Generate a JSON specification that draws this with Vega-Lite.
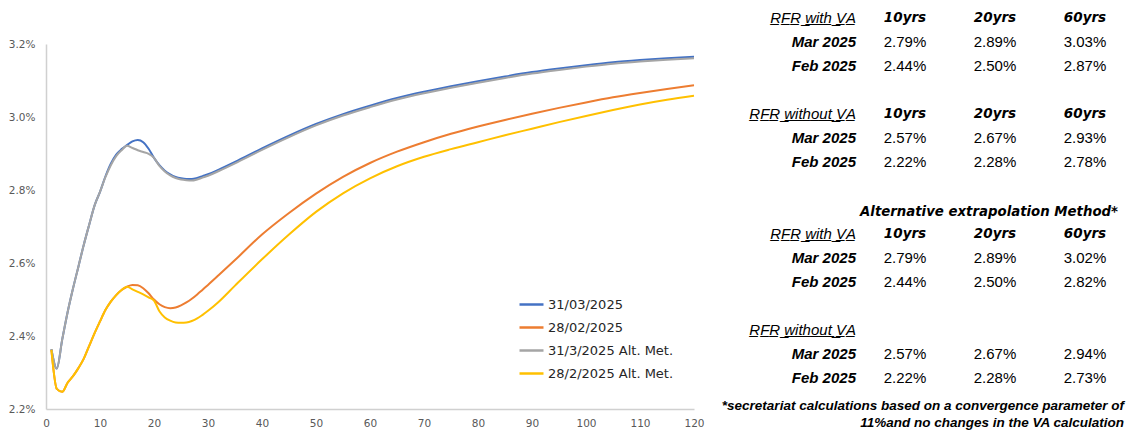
{
  "$schema": "https://vega.github.io/schema/vega-lite/v6.json",
  "background": "white",
  "padding": {"left": 8, "top": 10, "right": 2, "bottom": 2},
  "bounds": "flush",
  "spacing": 121,
  "config": {"view": {"stroke": null}, "font": "DejaVu Sans"},
  "datasets": {
    "curves": [
      {"s":"31/03/2025","t":1,"v":2.364},{"s":"31/03/2025","t":2,"v":2.311},{"s":"31/03/2025","t":3,"v":2.39},{"s":"31/03/2025","t":4,"v":2.465},{"s":"31/03/2025","t":5,"v":2.53},{"s":"31/03/2025","t":6,"v":2.59},{"s":"31/03/2025","t":7,"v":2.65},{"s":"31/03/2025","t":8,"v":2.705},{"s":"31/03/2025","t":9,"v":2.758},{"s":"31/03/2025","t":10,"v":2.795},{"s":"31/03/2025","t":11,"v":2.837},{"s":"31/03/2025","t":12,"v":2.872},{"s":"31/03/2025","t":13,"v":2.897},{"s":"31/03/2025","t":14,"v":2.912},{"s":"31/03/2025","t":15,"v":2.923},{"s":"31/03/2025","t":16,"v":2.933},{"s":"31/03/2025","t":17,"v":2.937},{"s":"31/03/2025","t":18,"v":2.931},{"s":"31/03/2025","t":19,"v":2.913},{"s":"31/03/2025","t":20,"v":2.888},{"s":"31/03/2025","t":21,"v":2.868},{"s":"31/03/2025","t":22,"v":2.853},{"s":"31/03/2025","t":23,"v":2.843},{"s":"31/03/2025","t":24,"v":2.836},{"s":"31/03/2025","t":25,"v":2.832},{"s":"31/03/2025","t":26,"v":2.83},{"s":"31/03/2025","t":27,"v":2.83},{"s":"31/03/2025","t":28,"v":2.833},{"s":"31/03/2025","t":29,"v":2.838},{"s":"31/03/2025","t":30,"v":2.843},{"s":"31/03/2025","t":32,"v":2.856},{"s":"31/03/2025","t":35,"v":2.877},{"s":"31/03/2025","t":40,"v":2.914},{"s":"31/03/2025","t":45,"v":2.949},{"s":"31/03/2025","t":50,"v":2.981},{"s":"31/03/2025","t":55,"v":3.008},{"s":"31/03/2025","t":60,"v":3.031},{"s":"31/03/2025","t":65,"v":3.052},{"s":"31/03/2025","t":70,"v":3.069},{"s":"31/03/2025","t":75,"v":3.084},{"s":"31/03/2025","t":80,"v":3.098},{"s":"31/03/2025","t":85,"v":3.111},{"s":"31/03/2025","t":90,"v":3.123},{"s":"31/03/2025","t":95,"v":3.133},{"s":"31/03/2025","t":100,"v":3.142},{"s":"31/03/2025","t":105,"v":3.15},{"s":"31/03/2025","t":110,"v":3.156},{"s":"31/03/2025","t":115,"v":3.161},{"s":"31/03/2025","t":120,"v":3.165},
      {"s":"28/02/2025","t":1,"v":2.362},{"s":"28/02/2025","t":2,"v":2.255},{"s":"28/02/2025","t":3,"v":2.247},{"s":"28/02/2025","t":4,"v":2.272},{"s":"28/02/2025","t":5,"v":2.29},{"s":"28/02/2025","t":6,"v":2.312},{"s":"28/02/2025","t":7,"v":2.338},{"s":"28/02/2025","t":8,"v":2.373},{"s":"28/02/2025","t":9,"v":2.408},{"s":"28/02/2025","t":10,"v":2.44},{"s":"28/02/2025","t":11,"v":2.471},{"s":"28/02/2025","t":12,"v":2.494},{"s":"28/02/2025","t":13,"v":2.512},{"s":"28/02/2025","t":14,"v":2.526},{"s":"28/02/2025","t":15,"v":2.535},{"s":"28/02/2025","t":16,"v":2.54},{"s":"28/02/2025","t":17,"v":2.539},{"s":"28/02/2025","t":18,"v":2.531},{"s":"28/02/2025","t":19,"v":2.517},{"s":"28/02/2025","t":20,"v":2.5},{"s":"28/02/2025","t":21,"v":2.487},{"s":"28/02/2025","t":22,"v":2.479},{"s":"28/02/2025","t":23,"v":2.476},{"s":"28/02/2025","t":24,"v":2.478},{"s":"28/02/2025","t":25,"v":2.484},{"s":"28/02/2025","t":26,"v":2.492},{"s":"28/02/2025","t":27,"v":2.502},{"s":"28/02/2025","t":28,"v":2.514},{"s":"28/02/2025","t":29,"v":2.527},{"s":"28/02/2025","t":30,"v":2.54},{"s":"28/02/2025","t":32,"v":2.567},{"s":"28/02/2025","t":35,"v":2.608},{"s":"28/02/2025","t":40,"v":2.678},{"s":"28/02/2025","t":45,"v":2.737},{"s":"28/02/2025","t":50,"v":2.79},{"s":"28/02/2025","t":55,"v":2.836},{"s":"28/02/2025","t":60,"v":2.874},{"s":"28/02/2025","t":65,"v":2.905},{"s":"28/02/2025","t":70,"v":2.931},{"s":"28/02/2025","t":75,"v":2.954},{"s":"28/02/2025","t":80,"v":2.974},{"s":"28/02/2025","t":85,"v":2.992},{"s":"28/02/2025","t":90,"v":3.009},{"s":"28/02/2025","t":95,"v":3.025},{"s":"28/02/2025","t":100,"v":3.04},{"s":"28/02/2025","t":105,"v":3.054},{"s":"28/02/2025","t":110,"v":3.066},{"s":"28/02/2025","t":115,"v":3.077},{"s":"28/02/2025","t":120,"v":3.087},
      {"s":"31/3/2025 Alt. Met.","t":1,"v":2.364},{"s":"31/3/2025 Alt. Met.","t":2,"v":2.311},{"s":"31/3/2025 Alt. Met.","t":3,"v":2.39},{"s":"31/3/2025 Alt. Met.","t":4,"v":2.465},{"s":"31/3/2025 Alt. Met.","t":5,"v":2.53},{"s":"31/3/2025 Alt. Met.","t":6,"v":2.59},{"s":"31/3/2025 Alt. Met.","t":7,"v":2.65},{"s":"31/3/2025 Alt. Met.","t":8,"v":2.705},{"s":"31/3/2025 Alt. Met.","t":9,"v":2.758},{"s":"31/3/2025 Alt. Met.","t":10,"v":2.795},{"s":"31/3/2025 Alt. Met.","t":11,"v":2.835},{"s":"31/3/2025 Alt. Met.","t":12,"v":2.868},{"s":"31/3/2025 Alt. Met.","t":13,"v":2.893},{"s":"31/3/2025 Alt. Met.","t":14,"v":2.909},{"s":"31/3/2025 Alt. Met.","t":15,"v":2.921},{"s":"31/3/2025 Alt. Met.","t":16,"v":2.915},{"s":"31/3/2025 Alt. Met.","t":17,"v":2.909},{"s":"31/3/2025 Alt. Met.","t":18,"v":2.904},{"s":"31/3/2025 Alt. Met.","t":19,"v":2.899},{"s":"31/3/2025 Alt. Met.","t":20,"v":2.888},{"s":"31/3/2025 Alt. Met.","t":21,"v":2.866},{"s":"31/3/2025 Alt. Met.","t":22,"v":2.851},{"s":"31/3/2025 Alt. Met.","t":23,"v":2.84},{"s":"31/3/2025 Alt. Met.","t":24,"v":2.833},{"s":"31/3/2025 Alt. Met.","t":25,"v":2.829},{"s":"31/3/2025 Alt. Met.","t":26,"v":2.827},{"s":"31/3/2025 Alt. Met.","t":27,"v":2.826},{"s":"31/3/2025 Alt. Met.","t":28,"v":2.829},{"s":"31/3/2025 Alt. Met.","t":29,"v":2.834},{"s":"31/3/2025 Alt. Met.","t":30,"v":2.839},{"s":"31/3/2025 Alt. Met.","t":32,"v":2.852},{"s":"31/3/2025 Alt. Met.","t":35,"v":2.873},{"s":"31/3/2025 Alt. Met.","t":40,"v":2.91},{"s":"31/3/2025 Alt. Met.","t":45,"v":2.945},{"s":"31/3/2025 Alt. Met.","t":50,"v":2.977},{"s":"31/3/2025 Alt. Met.","t":55,"v":3.004},{"s":"31/3/2025 Alt. Met.","t":60,"v":3.027},{"s":"31/3/2025 Alt. Met.","t":65,"v":3.048},{"s":"31/3/2025 Alt. Met.","t":70,"v":3.065},{"s":"31/3/2025 Alt. Met.","t":75,"v":3.08},{"s":"31/3/2025 Alt. Met.","t":80,"v":3.094},{"s":"31/3/2025 Alt. Met.","t":85,"v":3.107},{"s":"31/3/2025 Alt. Met.","t":90,"v":3.119},{"s":"31/3/2025 Alt. Met.","t":95,"v":3.129},{"s":"31/3/2025 Alt. Met.","t":100,"v":3.138},{"s":"31/3/2025 Alt. Met.","t":105,"v":3.146},{"s":"31/3/2025 Alt. Met.","t":110,"v":3.152},{"s":"31/3/2025 Alt. Met.","t":115,"v":3.157},{"s":"31/3/2025 Alt. Met.","t":120,"v":3.161},
      {"s":"28/2/2025 Alt. Met.","t":1,"v":2.362},{"s":"28/2/2025 Alt. Met.","t":2,"v":2.255},{"s":"28/2/2025 Alt. Met.","t":3,"v":2.247},{"s":"28/2/2025 Alt. Met.","t":4,"v":2.272},{"s":"28/2/2025 Alt. Met.","t":5,"v":2.29},{"s":"28/2/2025 Alt. Met.","t":6,"v":2.312},{"s":"28/2/2025 Alt. Met.","t":7,"v":2.338},{"s":"28/2/2025 Alt. Met.","t":8,"v":2.373},{"s":"28/2/2025 Alt. Met.","t":9,"v":2.408},{"s":"28/2/2025 Alt. Met.","t":10,"v":2.44},{"s":"28/2/2025 Alt. Met.","t":11,"v":2.471},{"s":"28/2/2025 Alt. Met.","t":12,"v":2.494},{"s":"28/2/2025 Alt. Met.","t":13,"v":2.512},{"s":"28/2/2025 Alt. Met.","t":14,"v":2.526},{"s":"28/2/2025 Alt. Met.","t":15,"v":2.535},{"s":"28/2/2025 Alt. Met.","t":16,"v":2.528},{"s":"28/2/2025 Alt. Met.","t":17,"v":2.521},{"s":"28/2/2025 Alt. Met.","t":18,"v":2.514},{"s":"28/2/2025 Alt. Met.","t":19,"v":2.506},{"s":"28/2/2025 Alt. Met.","t":20,"v":2.497},{"s":"28/2/2025 Alt. Met.","t":21,"v":2.468},{"s":"28/2/2025 Alt. Met.","t":22,"v":2.451},{"s":"28/2/2025 Alt. Met.","t":23,"v":2.442},{"s":"28/2/2025 Alt. Met.","t":24,"v":2.437},{"s":"28/2/2025 Alt. Met.","t":25,"v":2.436},{"s":"28/2/2025 Alt. Met.","t":26,"v":2.437},{"s":"28/2/2025 Alt. Met.","t":27,"v":2.441},{"s":"28/2/2025 Alt. Met.","t":28,"v":2.448},{"s":"28/2/2025 Alt. Met.","t":29,"v":2.458},{"s":"28/2/2025 Alt. Met.","t":30,"v":2.469},{"s":"28/2/2025 Alt. Met.","t":32,"v":2.494},{"s":"28/2/2025 Alt. Met.","t":35,"v":2.538},{"s":"28/2/2025 Alt. Met.","t":40,"v":2.61},{"s":"28/2/2025 Alt. Met.","t":45,"v":2.678},{"s":"28/2/2025 Alt. Met.","t":50,"v":2.74},{"s":"28/2/2025 Alt. Met.","t":55,"v":2.791},{"s":"28/2/2025 Alt. Met.","t":60,"v":2.832},{"s":"28/2/2025 Alt. Met.","t":65,"v":2.865},{"s":"28/2/2025 Alt. Met.","t":70,"v":2.891},{"s":"28/2/2025 Alt. Met.","t":75,"v":2.912},{"s":"28/2/2025 Alt. Met.","t":80,"v":2.931},{"s":"28/2/2025 Alt. Met.","t":85,"v":2.95},{"s":"28/2/2025 Alt. Met.","t":90,"v":2.968},{"s":"28/2/2025 Alt. Met.","t":95,"v":2.986},{"s":"28/2/2025 Alt. Met.","t":100,"v":3.003},{"s":"28/2/2025 Alt. Met.","t":105,"v":3.019},{"s":"28/2/2025 Alt. Met.","t":110,"v":3.034},{"s":"28/2/2025 Alt. Met.","t":115,"v":3.047},{"s":"28/2/2025 Alt. Met.","t":120,"v":3.058}
    ],
    "table": [
      {"row":0,"col":0,"kind":"section","text":"R\u0332F\u0332R\u0332 \u0332w\u0332i\u0332t\u0332h\u0332 \u0332V\u0332A\u0332"},
      {"row":0,"col":1,"kind":"head","text":"10yrs"},{"row":0,"col":2,"kind":"head","text":"20yrs"},{"row":0,"col":3,"kind":"head","text":"60yrs"},
      {"row":1,"col":0,"kind":"rowlabel","text":"Mar 2025"},{"row":1,"col":1,"kind":"value","text":"2.79%"},{"row":1,"col":2,"kind":"value","text":"2.89%"},{"row":1,"col":3,"kind":"value","text":"3.03%"},
      {"row":2,"col":0,"kind":"rowlabel","text":"Feb 2025"},{"row":2,"col":1,"kind":"value","text":"2.44%"},{"row":2,"col":2,"kind":"value","text":"2.50%"},{"row":2,"col":3,"kind":"value","text":"2.87%"},
      {"row":4,"col":0,"kind":"section","text":"R\u0332F\u0332R\u0332 \u0332w\u0332i\u0332t\u0332h\u0332o\u0332u\u0332t\u0332 \u0332V\u0332A\u0332"},
      {"row":4,"col":1,"kind":"head","text":"10yrs"},{"row":4,"col":2,"kind":"head","text":"20yrs"},{"row":4,"col":3,"kind":"head","text":"60yrs"},
      {"row":5,"col":0,"kind":"rowlabel","text":"Mar 2025"},{"row":5,"col":1,"kind":"value","text":"2.57%"},{"row":5,"col":2,"kind":"value","text":"2.67%"},{"row":5,"col":3,"kind":"value","text":"2.93%"},
      {"row":6,"col":0,"kind":"rowlabel","text":"Feb 2025"},{"row":6,"col":1,"kind":"value","text":"2.22%"},{"row":6,"col":2,"kind":"value","text":"2.28%"},{"row":6,"col":3,"kind":"value","text":"2.78%"},
      {"row":8,"col":3,"kind":"title","text":"Alternative extrapolation Method*"},
      {"row":9,"col":0,"kind":"section","text":"R\u0332F\u0332R\u0332 \u0332w\u0332i\u0332t\u0332h\u0332 \u0332V\u0332A\u0332"},
      {"row":9,"col":1,"kind":"head","text":"10yrs"},{"row":9,"col":2,"kind":"head","text":"20yrs"},{"row":9,"col":3,"kind":"head","text":"60yrs"},
      {"row":10,"col":0,"kind":"rowlabel","text":"Mar 2025"},{"row":10,"col":1,"kind":"value","text":"2.79%"},{"row":10,"col":2,"kind":"value","text":"2.89%"},{"row":10,"col":3,"kind":"value","text":"3.02%"},
      {"row":11,"col":0,"kind":"rowlabel","text":"Feb 2025"},{"row":11,"col":1,"kind":"value","text":"2.44%"},{"row":11,"col":2,"kind":"value","text":"2.50%"},{"row":11,"col":3,"kind":"value","text":"2.82%"},
      {"row":13,"col":0,"kind":"section","text":"R\u0332F\u0332R\u0332 \u0332w\u0332i\u0332t\u0332h\u0332o\u0332u\u0332t\u0332 \u0332V\u0332A\u0332"},
      {"row":14,"col":0,"kind":"rowlabel","text":"Mar 2025"},{"row":14,"col":1,"kind":"value","text":"2.57%"},{"row":14,"col":2,"kind":"value","text":"2.67%"},{"row":14,"col":3,"kind":"value","text":"2.94%"},
      {"row":15,"col":0,"kind":"rowlabel","text":"Feb 2025"},{"row":15,"col":1,"kind":"value","text":"2.22%"},{"row":15,"col":2,"kind":"value","text":"2.28%"},{"row":15,"col":3,"kind":"value","text":"2.73%"},
      {"row":17,"col":3,"kind":"note","text":"*secretariat calculations based on a convergence parameter of\n11%and no changes in the VA calculation"}
    ]
  },
  "hconcat": [
    {
      "width": 648,
      "height": 365,
      "data": {"name": "curves"},
      "mark": {"type": "line", "strokeWidth": 2, "interpolate": "monotone"},
      "encoding": {
        "x": {
          "field": "t", "type": "quantitative",
          "scale": {"domain": [0, 120], "nice": false, "zero": false},
          "axis": {"values": [0,10,20,30,40,50,60,70,80,90,100,110,120], "title": null, "grid": false, "ticks": false,
                   "domainColor": "#d0d0d0", "domainWidth": 1.5, "labelColor": "#595959", "labelFont": "DejaVu Sans",
                   "labelFontSize": 10.5, "labelPadding": 9, "labelFlush": false}
        },
        "y": {
          "field": "v", "type": "quantitative",
          "scale": {"domain": [2.2, 3.2], "nice": false, "zero": false},
          "axis": {"values": [2.2,2.4,2.6,2.8,3.0,3.2], "labelExpr": "format(datum.value, '.1f') + '%'", "title": null,
                   "grid": false, "ticks": false, "domainColor": "#d0d0d0", "domainWidth": 1.5, "labelColor": "#595959",
                   "labelFont": "DejaVu Sans", "labelFontSize": 10.5, "labelPadding": 11}
        },
        "color": {
          "field": "s", "type": "nominal",
          "scale": {"domain": ["31/03/2025", "28/02/2025", "31/3/2025 Alt. Met.", "28/2/2025 Alt. Met."],
                    "range": ["#4472C4", "#ED7D31", "#A5A5A5", "#FFC000"]},
          "legend": {"orient": "none", "legendX": 472, "legendY": 247, "title": null, "symbolType": "stroke",
                     "symbolSize": 576, "symbolStrokeWidth": 2.5, "labelFont": "DejaVu Sans", "labelFontSize": 13,
                     "labelColor": "#262626", "rowPadding": 2, "labelOffset": 3, "labelLimit": 300, "padding": 0}
        },
        "order": {"field": "t", "type": "quantitative"}
      }
    },
    {
      "width": 270,
      "height": 365,
      "data": {"name": "table"},
      "encoding": {
        "x": {"field": "col", "type": "quantitative", "scale": {"domain": [0, 3], "nice": false, "zero": false}, "axis": null},
        "y": {"field": "row", "type": "quantitative", "scale": {"domain": [1.1, 16.28], "reverse": true, "nice": false, "zero": false}, "axis": null},
        "text": {"field": "text", "type": "nominal"}
      },
      "layer": [
        {"transform": [{"filter": "datum.kind === 'section'"}],
         "mark": {"type": "text", "align": "right", "baseline": "middle", "dx": 41, "font": "Liberation Sans", "fontStyle": "italic", "fontSize": 15, "color": "#000000"}},
        {"transform": [{"filter": "datum.kind === 'rowlabel'"}],
         "mark": {"type": "text", "align": "right", "baseline": "middle", "dx": 41, "font": "Liberation Sans", "fontStyle": "italic", "fontWeight": "bold", "fontSize": 15, "color": "#000000"}},
        {"transform": [{"filter": "datum.kind === 'head'"}],
         "mark": {"type": "text", "align": "center", "baseline": "middle", "font": "DejaVu Sans", "fontStyle": "italic", "fontWeight": "bold", "fontSize": 13.5, "color": "#000000"}},
        {"transform": [{"filter": "datum.kind === 'value'"}],
         "mark": {"type": "text", "align": "center", "baseline": "middle", "font": "Liberation Sans", "fontSize": 15, "color": "#000000"}},
        {"transform": [{"filter": "datum.kind === 'title'"}],
         "mark": {"type": "text", "align": "right", "baseline": "middle", "dx": 33, "dy": 2, "font": "DejaVu Sans", "fontStyle": "italic", "fontWeight": "bold", "fontSize": 13.3, "color": "#000000"}},
        {"transform": [{"filter": "datum.kind === 'note'"}],
         "mark": {"type": "text", "align": "right", "baseline": "alphabetic", "dx": 39, "dy": -16, "lineBreak": "\n", "lineHeight": 17, "font": "Liberation Sans", "fontStyle": "italic", "fontWeight": "bold", "fontSize": 13.5, "color": "#000000"}}
      ]
    }
  ]
}
